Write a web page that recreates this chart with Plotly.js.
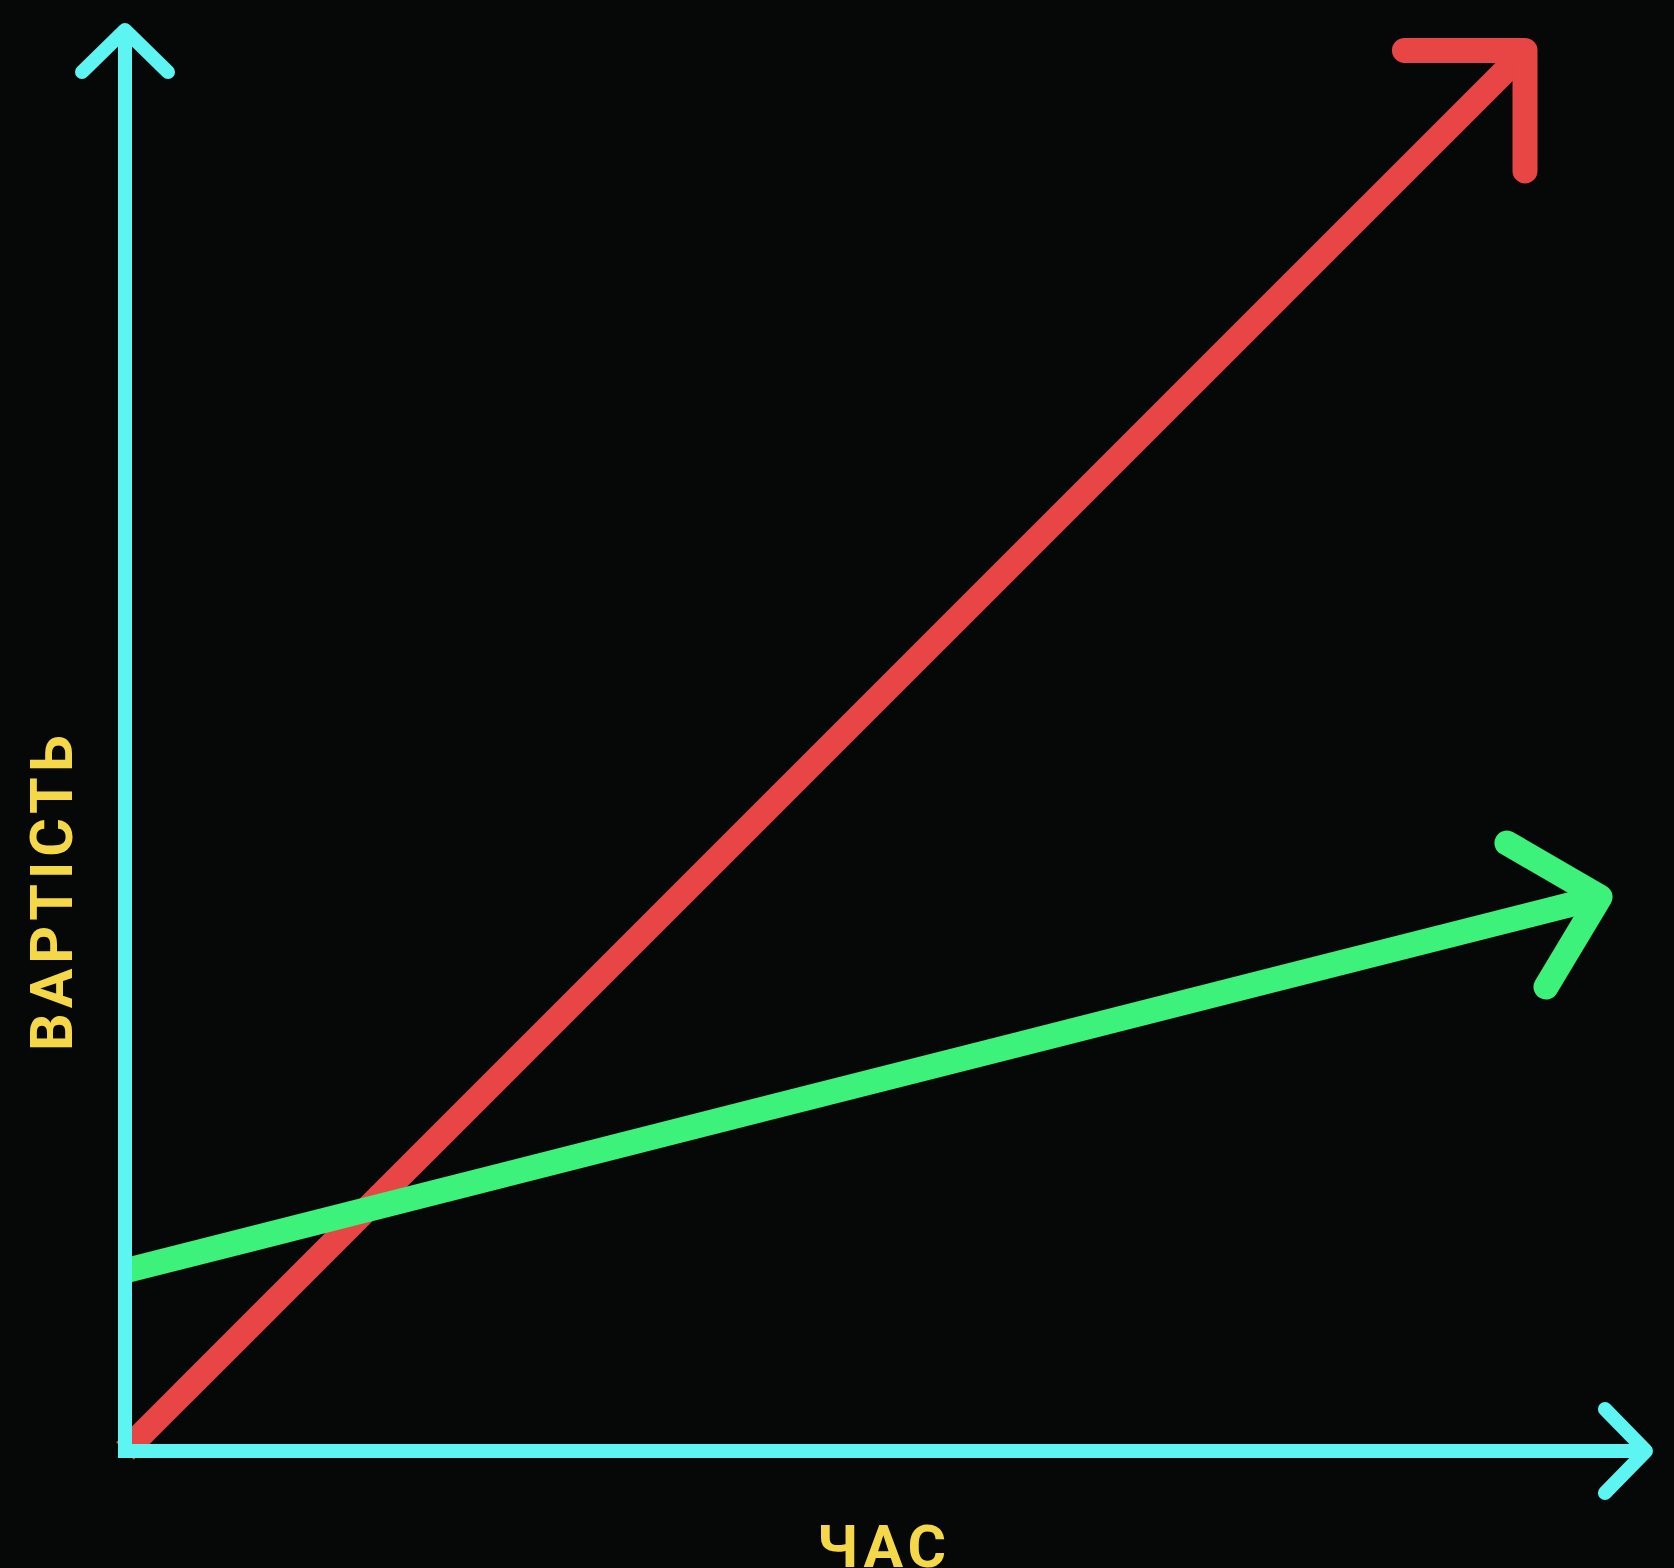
<!DOCTYPE html>
<html>
<head>
<meta charset="utf-8">
<script src="https://cdn.plot.ly/plotly-3.0.1.min.js"></script>
<style>
  html, body { margin: 0; padding: 0; background: #050807; }
  #chart { width: 1674px; height: 1568px; }
  .annotation-text { letter-spacing: 5px; }
</style>
</head>
<body>
<div id="chart"></div>
<script>
// ---- data (time units on x, cost units on y) ----
const redLineX = [0, 10];
const redLineY = [0, 10];
const redHeadX = [9.139, 10, 10];
const redHeadY = [10.004, 10.004, 9.143];

const greenLineX = [0, 10.536];
const greenLineY = [1.286, 3.957];
const greenHeadX = [9.871, 10.536, 10.15];
const greenHeadY = [4.343, 3.957, 3.314];

const yAxisShaftX = [0, 0];
const yAxisShaftY = [-0.05, 10.15];
const yAxisHeadX = [-0.307, 0, 0.307];
const yAxisHeadY = [9.85, 10.15, 9.85];

const xAxisShaftX = [-0.05, 10.864];
const xAxisShaftY = [0, 0];
const xAxisHeadX = [10.571, 10.864, 10.571];
const xAxisHeadY = [0.3, 0, -0.3];

const xLabel = 'ЧАС';
const yLabel = 'ВАРТІСТЬ';

// ---- styles ----
const RED = '#E84545';
const GREEN = '#3DF27A';
const CYAN = '#5CF5F1';
const YELLOW = '#F5D848';

function seg(x, y, color, width, cap) {
  return { type: 'scatter', mode: 'lines', x: x, y: y, hoverinfo: 'skip',
           showlegend: false, meta: cap,
           line: { color: color, width: width, simplify: false } };
}

const traces = [
  seg(redLineX, redLineY, RED, 25, 'butt'),
  seg(redHeadX, redHeadY, RED, 25, 'round'),
  seg(greenLineX, greenLineY, GREEN, 25, 'butt'),
  seg(greenHeadX, greenHeadY, GREEN, 25, 'round'),
  seg(yAxisShaftX, yAxisShaftY, CYAN, 14, 'butt'),
  seg(yAxisHeadX, yAxisHeadY, CYAN, 14, 'round'),
  seg(xAxisShaftX, xAxisShaftY, CYAN, 14, 'butt'),
  seg(xAxisHeadX, xAxisHeadY, CYAN, 14, 'round')
];

const labelFont = { family: 'Roboto, "Noto Sans", "DejaVu Sans", sans-serif', size: 59, color: YELLOW, weight: 700 };

const layout = {
  width: 1674, height: 1568,
  margin: { l: 0, r: 0, t: 0, b: 0, pad: 0 },
  paper_bgcolor: '#050807',
  plot_bgcolor: '#050807',
  showlegend: false,
  xaxis: { range: [-125 / 140, (1674 - 125) / 140], visible: false, showgrid: false, zeroline: false, fixedrange: true },
  yaxis: { range: [-(1568 - 1451) / 140, 1451 / 140], visible: false, showgrid: false, zeroline: false, fixedrange: true },
  annotations: [
    { text: xLabel, xref: 'paper', yref: 'paper', x: 884 / 1674, y: 1 - 1546 / 1568,
      xanchor: 'center', yanchor: 'middle', showarrow: false, font: labelFont },
    { text: yLabel, xref: 'paper', yref: 'paper', x: 51 / 1674, y: 1 - 891 / 1568,
      xanchor: 'center', yanchor: 'middle', showarrow: false, textangle: -90, font: labelFont }
  ]
};

Plotly.newPlot('chart', traces, layout, { staticPlot: true, displayModeBar: false }).then(function (gd) {
  const groups = gd.querySelectorAll('.scatterlayer .trace');
  groups.forEach(function (g, i) {
    const cap = traces[i] ? traces[i].meta : 'butt';
    g.querySelectorAll('path.js-line').forEach(function (p) {
      p.style.strokeLinecap = cap;
      p.style.strokeLinejoin = 'round';
    });
  });
});
</script>
</body>
</html>
